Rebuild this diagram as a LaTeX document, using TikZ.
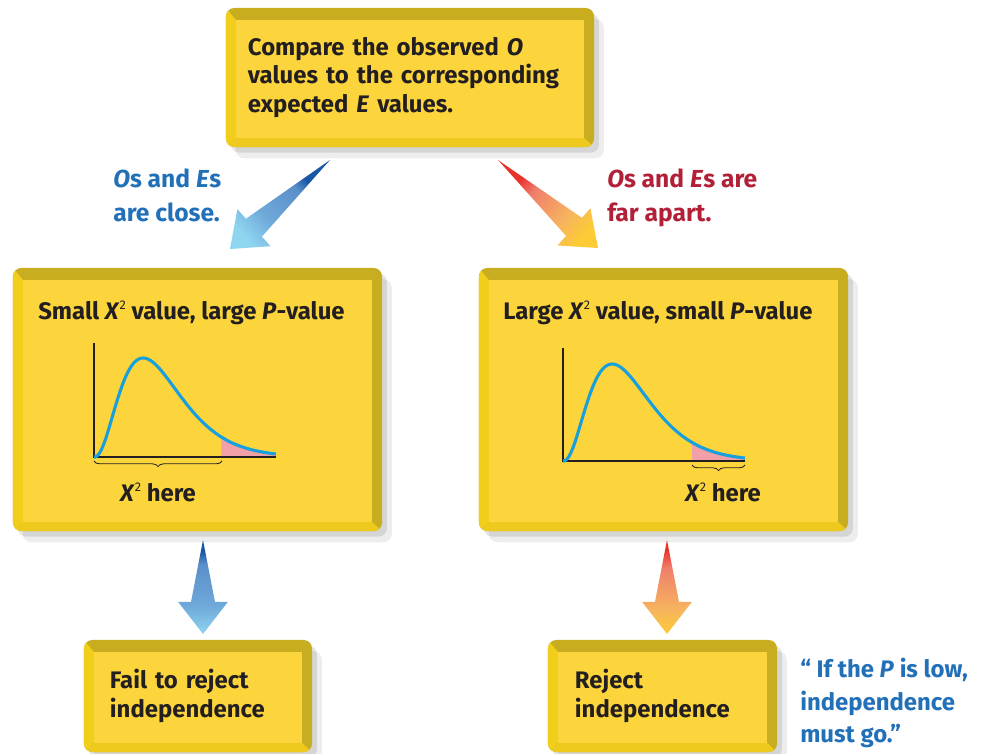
\documentclass[tikz,border=0pt]{standalone}
\usepackage{fontspec}
\setmainfont{Fira Sans}
\usepackage{xcolor}
\usepackage{tikz}
\usetikzlibrary{positioning,calc,shadows,decorations.pathreplacing}
\definecolor{boxyellow}{HTML}{FCD53C}
\definecolor{rimdark}{HTML}{C8AD20}
\definecolor{rimlight}{HTML}{F1CE1C}
\definecolor{rimlow}{HTML}{EFCA1E}
\definecolor{ink}{HTML}{231F20}
\definecolor{inkblue}{HTML}{2270B8}
\definecolor{inkred}{HTML}{B22038}
\definecolor{curveblue}{HTML}{17A0DC}
\definecolor{tailpink}{HTML}{F0A0A6}
\definecolor{coolA}{HTML}{8ED5EF}
\definecolor{coolB}{HTML}{6FA9D9}
\definecolor{coolC}{HTML}{5A8FCA}
\definecolor{coolD}{HTML}{1757A6}
\definecolor{warmA}{HTML}{FCCB35}
\definecolor{warmB}{HTML}{F7B45E}
\definecolor{warmC}{HTML}{EF7F6C}
\definecolor{warmD}{HTML}{E8322A}
\pgfdeclareverticalshading{coolfade}{100bp}{color(0bp)=(coolA); color(25bp)=(coolA);
  color(40bp)=(coolB); color(62bp)=(coolC); color(69bp)=(coolD); color(100bp)=(coolD)}
\pgfdeclareverticalshading{warmfade}{100bp}{color(0bp)=(warmA); color(25bp)=(warmA);
  color(38bp)=(warmB); color(60bp)=(warmC); color(70bp)=(warmD); color(100bp)=(warmD)}
\newcommand{\chisq}{\textit{X}\raisebox{.85ex}{\fontsize{9}{9}\selectfont\mdseries 2}}

\begin{document}
\begin{tikzpicture}[x=0.025cm, y=0.025cm,
  font=\fontsize{17}{20}\selectfont\bfseries, text=ink,
  declare function={chi(\t)=(\t/0.27)^2.5*exp(-9.26*(\t-0.27));},
  bevbox/.style={rounded corners=6pt, fill=rimdark, inner sep=0pt, align=left,
    drop shadow={shadow xshift=7pt, shadow yshift=-8pt, opacity=0.07, fill=black},
    drop shadow={shadow xshift=3.5pt, shadow yshift=-4pt, opacity=0.10, fill=black},
    path picture={
      \fill[rimlight, sharp corners] (path picture bounding box.south west) -- (path picture bounding box.north west)
        -- ([shift={(7pt,-8.5pt)}]path picture bounding box.north west) -- ([shift={(7pt,6.4pt)}]path picture bounding box.south west) -- cycle;
      \fill[rimlow, sharp corners] (path picture bounding box.south west) -- ([shift={(7pt,6.4pt)}]path picture bounding box.south west)
        -- ([shift={(-7pt,6.4pt)}]path picture bounding box.south east) -- (path picture bounding box.south east) -- cycle;
      \fill[boxyellow, sharp corners] ([shift={(7pt,6.4pt)}]path picture bounding box.south west) rectangle ([shift={(-7pt,-8.5pt)}]path picture bounding box.north east);
    }},
  note/.style={anchor=north west, inner sep=0pt, align=left, font=\fontsize{17.5}{23.5}\selectfont\bfseries},
  curve/.style={draw=curveblue, line width=2.2pt},
  axis/.style={draw=ink, line width=0.9pt},
  brace/.style={draw=ink, line width=0.6pt, decorate, decoration={brace, mirror, amplitude=4pt}}
]
  \useasboundingbox (0,0) rectangle (982,-754);

  % boxes
  \node[bevbox, minimum width=9.2cm, minimum height=3.475cm, text width=8.1cm] (cmp) at (410,-77.5)
        {Compare the observed \textit{O}\\values to the corresponding\\expected \textit{E} values.};
  \node[bevbox, minimum width=9.225cm, minimum height=6.575cm] (small) at (197.5,-399.5) {};
  \node[bevbox, minimum width=9.225cm, minimum height=6.575cm] (large) at (663.5,-399.5) {};
  \node[bevbox, minimum width=5.7cm, minimum height=2.8cm, text width=4.4cm] (fail) at (198,-696)
        {Fail to reject\\independence};
  \node[bevbox, minimum width=5.725cm, minimum height=2.8cm, text width=4.375cm] (reject) at (662.5,-696)
        {Reject\\independence};

  % fat shaded arrows
  \coordinate (bt) at (330,-160);  \coordinate (bh) at (230,-249);
  \coordinate (rt) at (498,-160);  \coordinate (rh) at (598,-248);
  \coordinate (bd) at (203,-540);  \coordinate (bu) at (203,-634);
  \coordinate (rd) at (667,-540);  \coordinate (ru) at (667,-634);
  \foreach \t/\h/\f/\a in {bt/bh/coolfade/-48.3, rt/rh/warmfade/48.8, bd/bu/coolfade/0, rd/ru/warmfade/0} {
    \coordinate (hb) at ($(\h)!0.8cm!(\t)$);
    \shade[shading=\f, shading angle=\a] (\t) -- ($(hb)!0.3cm!90:(\h)$) -- ($(hb)!0.62cm!90:(\h)$) -- (\h)
      -- ($(hb)!0.62cm!-90:(\h)$) -- ($(hb)!0.3cm!-90:(\h)$) -- cycle;
  }

  \node[note, text=inkblue] (near) at (113,-169) {\textit{O}s and \textit{E}s\\are close.};
  \node[note, text=inkred] (far) at (607,-169) {\textit{O}s and \textit{E}s are\\far apart.};
  \node[note, text=inkblue, font=\fontsize{17}{23}\selectfont\bfseries] (quote) at (800,-658)
        {“ If the \textit{P} is low,\\independence\\must go.”};

  % left chart
  \node[anchor=base west, inner sep=0pt] (t1) at (38,-320) {Small \chisq{} value, large \textit{P}-value};
  \coordinate (o1) at (94,-457);
  \fill[tailpink] plot[domain=0.7:1, samples=20] ({94+182*\x},{-457+99*chi(\x)}) -- (276,-457) -- (221.4,-457) -- cycle;
  \draw[axis] (94,-343) -- (o1) -- (276,-457);
  \draw[curve] (o1) -- plot[domain=0.005:1, samples=80] ({94+182*\x},{-457+99*chi(\x)});
  \draw[brace] (94,-461) -- (222,-461);
  \node[anchor=base, inner sep=0pt] (h1) at (158,-502) {\chisq{} here};

  % right chart
  \node[anchor=base west, inner sep=0pt] (t2) at (503,-320) {Large \chisq{} value, small \textit{P}-value};
  \coordinate (o2) at (563,-461);
  \fill[tailpink] plot[domain=0.71:1, samples=20] ({563+182*\x},{-461+97*chi(\x)}) -- (745,-461) -- (692.2,-461) -- cycle;
  \draw[axis] (563,-348) -- (o2) -- (745,-461);
  \draw[curve] (o2) -- plot[domain=0.005:1, samples=80] ({563+182*\x},{-461+97*chi(\x)});
  \draw[brace] (692,-465) -- (745,-465);
  \node[anchor=base, inner sep=0pt] (h2) at (723,-502) {\chisq{} here};
\end{tikzpicture}
\end{document}
